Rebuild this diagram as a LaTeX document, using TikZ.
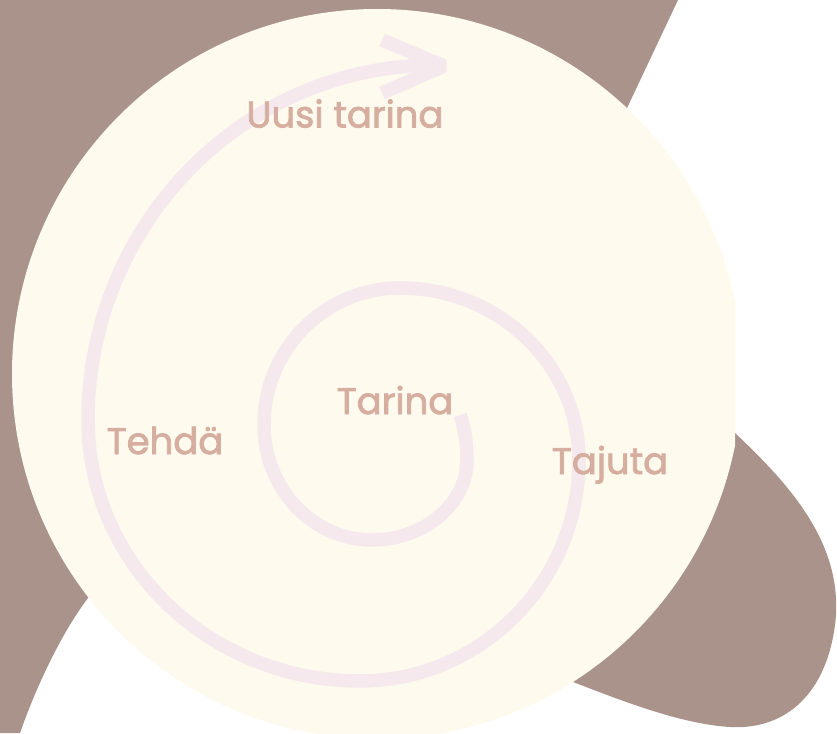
\documentclass[tikz,border=0pt]{standalone}
\usepackage{fontspec}
\setmainfont{Poppins}
\newfontfamily\wordfont{Poppins}[FakeBold=2]
\usetikzlibrary{positioning}
\definecolor{blob}{HTML}{AA938B}
\definecolor{disc}{HTML}{FEFAEE}
\definecolor{swirl}{HTML}{F5E9EE}
\definecolor{wordc}{HTML}{D5AE9F}

\begin{document}
\begin{tikzpicture}[
  x=1pt,y=-1pt,
  word/.style={text=wordc, font=\wordfont\fontsize{37}{44}\selectfont, anchor=base, inner sep=0pt},
  swirlline/.style={draw=swirl, line width=13.5pt, line cap=butt, line join=round},
]
\useasboundingbox (0,0) rectangle (837,733);
\clip (0,0) rectangle (837,733);
% brown shapes behind the disc
\fill[blob] (0,0) -- (678,0) -- (560,250) -- (150,520) -- (88,598)
  .. controls (60,635) and (35,690) .. (20,733) -- (0,733) -- cycle;
\fill[blob] (600,400) -- (735,433) .. controls (790,485) and (845,545) .. (835,625)
  .. controls (825,700) and (780,730) .. (730,727)
  .. controls (680,724) and (620,700) .. (573,682) -- (500,600) -- cycle;
% the disc, cut off on the right
\begin{scope}
\clip (0,0) rectangle (735,733);
\fill[disc] (377,374) circle[radius=365];
\end{scope}
% spiral, from the middle outwards, a quarter turn at a time
\draw[swirlline] (460,415)
  .. controls (465,428) and (467,445) .. (467,460)
  .. controls (467,504) and (424,540) .. (372,540)
  .. controls (312,540) and (264,488) .. (264,425)
  .. controls (264,349) and (325,288) .. (400,288)
  .. controls (499,288) and (579,365) .. (579,460)
  .. controls (579,582) and (481,681) .. (360,681)
  .. controls (210,681) and (88,564) .. (88,420)
  .. controls (88,224) and (244,65) .. (436,65);
\draw[swirlline, line join=bevel] (382,40) -- (444,66) -- (382,93);
% labels
\node[word] (uusi) at (345,127.5) {Uusi tarina};
\node[word] (tarina) at (395,414) {Tarina};
\node[word] (tehda) at (165,454) {Tehdä};
\node[word] (tajuta) at (610,474) {Tajuta};
\end{tikzpicture}
\end{document}
